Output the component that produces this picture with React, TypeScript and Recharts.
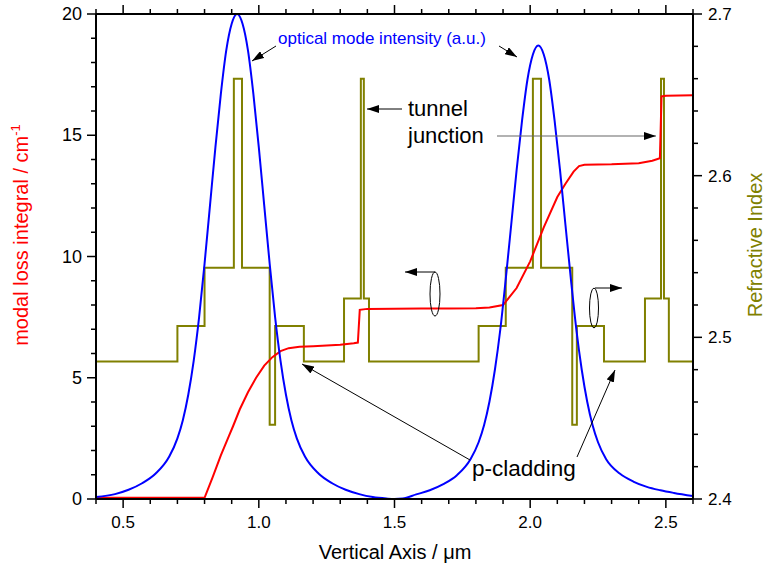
import React from "react";
import { LineChart, Line, XAxis, YAxis } from "recharts";

const FONT = "'Liberation Sans', Arial, Helvetica, sans-serif";
const BLUE = "#0000ff";
const RED = "#ff0000";
const OLIVE = "#808000";

// axis ticks
const X_TICKS = [0.4, 0.5, 0.6, 0.7, 0.8, 0.9, 1.0, 1.1, 1.2, 1.3, 1.4, 1.5, 1.6, 1.7, 1.8, 1.9, 2.0, 2.1, 2.2, 2.3, 2.4, 2.5, 2.6];
const LOSS_TICKS = [0, 1, 2, 3, 4, 5, 6, 7, 8, 9, 10, 11, 12, 13, 14, 15, 16, 17, 18, 19, 20];
const INDEX_TICKS = [2.4, 2.42, 2.44, 2.46, 2.48, 2.5, 2.52, 2.54, 2.56, 2.58, 2.6, 2.62, 2.64, 2.66, 2.68, 2.7];

// optical mode intensity (a.u., drawn on the left scale)
const MODE_X = [0.4, 0.47, 0.52, 0.57, 0.62, 0.67, 0.7, 0.72, 0.74, 0.76, 0.78, 0.8, 0.82, 0.84, 0.86, 0.88, 0.9, 0.92, 0.94, 0.96, 0.98, 1.0, 1.02, 1.04, 1.06, 1.08, 1.1, 1.12, 1.14, 1.17, 1.22, 1.27, 1.32, 1.37, 1.42, 1.47, 1.5, 1.53, 1.58, 1.63, 1.68, 1.73, 1.78, 1.81, 1.83, 1.85, 1.87, 1.89, 1.91, 1.93, 1.95, 1.97, 1.99, 2.01, 2.03, 2.05, 2.07, 2.09, 2.11, 2.13, 2.15, 2.17, 2.19, 2.21, 2.23, 2.25, 2.28, 2.33, 2.38, 2.43, 2.48, 2.53, 2.6];
const MODE_I = [0.08, 0.2, 0.38, 0.65, 1.05, 1.75, 2.5, 3.25, 4.3, 5.7, 7.5, 9.7, 12.1, 14.5, 16.7, 18.5, 19.6, 20.0, 19.6, 18.5, 16.7, 14.5, 12.1, 9.7, 7.5, 5.7, 4.3, 3.25, 2.5, 1.75, 1.05, 0.65, 0.38, 0.2, 0.08, 0.02, 0.0, 0.02, 0.19, 0.36, 0.61, 0.98, 1.64, 2.34, 3.04, 4.02, 5.33, 7.0, 9.07, 11.3, 13.56, 15.6, 17.3, 18.33, 18.7, 18.33, 17.3, 15.6, 13.56, 11.3, 9.07, 7.0, 5.33, 4.02, 3.04, 2.34, 1.64, 1.05, 0.72, 0.5, 0.36, 0.25, 0.12];

// modal loss integral / cm^-1
const LOSS_X = [0.4, 0.8, 0.83, 0.86, 0.89, 0.905, 0.93, 0.96, 0.99, 1.02, 1.05, 1.08, 1.11, 1.15, 1.2, 1.25, 1.3, 1.35, 1.365, 1.372, 1.4, 1.5, 1.6, 1.7, 1.8, 1.85, 1.9, 1.95, 2.0, 2.05, 2.1, 2.13, 2.16, 2.18, 2.2, 2.3, 2.4, 2.45, 2.478, 2.484, 2.5, 2.6];
const LOSS_V = [0.05, 0.05, 0.9, 1.8, 2.6, 3.0, 3.7, 4.4, 5.0, 5.5, 5.85, 6.1, 6.22, 6.28, 6.3, 6.33, 6.36, 6.42, 6.45, 7.8, 7.84, 7.85, 7.86, 7.86, 7.87, 7.9, 8.0, 8.7, 9.8, 11.2, 12.45, 13.0, 13.5, 13.73, 13.78, 13.8, 13.85, 13.95, 14.05, 16.6, 16.63, 16.65];

// refractive index profile (step starts)
const INDEX_X = [0.4, 0.7, 0.8, 0.908, 0.938, 1.04, 1.06, 1.166, 1.314, 1.376, 1.387, 1.406, 1.81, 1.91, 2.01, 2.04, 2.155, 2.172, 2.272, 2.423, 2.482, 2.493, 2.511, 2.6];
const INDEX_N = [2.485, 2.507, 2.543, 2.66, 2.543, 2.446, 2.507, 2.485, 2.524, 2.66, 2.524, 2.485, 2.507, 2.543, 2.66, 2.543, 2.446, 2.507, 2.485, 2.524, 2.66, 2.524, 2.485, 2.485];

const modeData = MODE_X.map((x, i) => ({ x, v: MODE_I[i] }));
const lossData = LOSS_X.map((x, i) => ({ x, v: LOSS_V[i] }));
const indexData = INDEX_X.map((x, i) => ({ x, n: INDEX_N[i] }));

const isMult = (v: number, step: number) => Math.abs(v / step - Math.round(v / step)) < 1e-6;

function BottomTick({ x, y, payload }: any) {
  const major = isMult(payload.value, 0.5);
  return (
    <g>
      <line x1={x} x2={x} y1={y} y2={y + (major ? 9 : 5)} stroke="#000" strokeWidth={1.5} />
      {major && (
        <text x={x} y={y + 29} textAnchor="middle" fontSize={17} fontFamily={FONT} fill="#000">
          {payload.value.toFixed(1)}
        </text>
      )}
    </g>
  );
}

function TopTick({ x, y, payload }: any) {
  const major = isMult(payload.value, 0.5);
  return <line x1={x} x2={x} y1={y} y2={y - (major ? 9 : 5)} stroke="#000" strokeWidth={1.5} />;
}

function LeftTick({ x, y, payload }: any) {
  const major = isMult(payload.value, 5);
  return (
    <g>
      <line x1={x} x2={x - (major ? 9 : 5)} y1={y} y2={y} stroke="#000" strokeWidth={1.5} />
      {major && (
        <text x={x - 14} y={y + 6} textAnchor="end" fontSize={18} fontFamily={FONT} fill="#000">
          {payload.value}
        </text>
      )}
    </g>
  );
}

function RightTick({ x, y, payload }: any) {
  const major = isMult(payload.value, 0.1);
  return (
    <g>
      <line x1={x} x2={x + (major ? 9 : 5)} y1={y} y2={y} stroke="#000" strokeWidth={1.5} />
      {major && (
        <text x={x + 15} y={y + 6} textAnchor="start" fontSize={17} fontFamily={FONT} fill="#000">
          {payload.value.toFixed(1)}
        </text>
      )}
    </g>
  );
}

function Annotations() {
  const txt = { fontFamily: FONT };
  return (
    <svg width={766} height={571} style={{ position: "absolute", left: 0, top: 0, pointerEvents: "none" }}>
      <defs>
        <marker id="ah" markerWidth={12} markerHeight={8} refX={12} refY={4} orient="auto" markerUnits="userSpaceOnUse">
          <path d="M0,0 L12,4 L0,8 z" fill="#000" />
        </marker>
      </defs>

      <text x={278} y={44} fontSize={17} fill={BLUE} {...txt}>optical mode intensity (a.u.)</text>
      <line x1={276} y1={46} x2={252} y2={61} stroke="#000" strokeWidth={1} markerEnd="url(#ah)" />
      <line x1={499} y1={46} x2={517} y2={57} stroke="#000" strokeWidth={1} markerEnd="url(#ah)" />

      <text x={408} y={116} fontSize={22} fill="#000" {...txt}>tunnel</text>
      <text x={408} y={143} fontSize={22} fill="#000" {...txt}>junction</text>
      <line x1={402} y1={109} x2={367} y2={109} stroke="#000" strokeWidth={1} markerEnd="url(#ah)" />
      <line x1={497} y1={136} x2={656} y2={136} stroke="#666" strokeWidth={1.2} markerEnd="url(#ah)" />

      <ellipse cx={435} cy={294} rx={5} ry={22} fill="none" stroke="#000" strokeWidth={1} />
      <line x1={435} y1={272} x2={405} y2={272} stroke="#000" strokeWidth={1} markerEnd="url(#ah)" />
      <ellipse cx={594} cy={308} rx={4.5} ry={20} fill="none" stroke="#000" strokeWidth={1} />
      <line x1={595} y1={288} x2={622} y2={288} stroke="#000" strokeWidth={1} markerEnd="url(#ah)" />

      <text x={472} y={476} fontSize={22.5} fill="#000" {...txt}>p-cladding</text>
      <line x1={470} y1={460} x2={302} y2={364} stroke="#000" strokeWidth={1} markerEnd="url(#ah)" />
      <line x1={577} y1={457} x2={615} y2={370} stroke="#000" strokeWidth={1} markerEnd="url(#ah)" />

      <text x={395} y={559} fontSize={20} textAnchor="middle" fill="#000" {...txt}>Vertical Axis / μm</text>
      <text transform="translate(28,235) rotate(-90)" fontSize={20} textAnchor="middle" fill={RED} {...txt}>
        modal loss integral / cm<tspan dy={-8} fontSize={13}>-1</tspan>
      </text>
      <text transform="translate(762,245) rotate(-90)" fontSize={20} textAnchor="middle" fill={OLIVE} {...txt}>
        Refractive Index
      </text>
    </svg>
  );
}

export default function App() {
  const axisLine = { stroke: "#000", strokeWidth: 2 };
  return (
    <div style={{ position: "absolute", left: 0, top: 0, width: 766, height: 571, background: "#fff" }}>
      <LineChart width={766} height={571} margin={{ top: 4, right: 13, bottom: 22, left: 36 }}>
        <XAxis xAxisId="b" type="number" dataKey="x" domain={[0.4, 2.6]} ticks={X_TICKS} interval={0}
          tick={<BottomTick />} tickLine={false} tickSize={0} tickMargin={0} axisLine={axisLine} height={50} allowDataOverflow />
        <XAxis xAxisId="t" orientation="top" type="number" dataKey="x" domain={[0.4, 2.6]} ticks={X_TICKS} interval={0}
          tick={<TopTick />} tickLine={false} tickSize={0} tickMargin={0} axisLine={axisLine} height={10} allowDataOverflow />
        <YAxis yAxisId="l" type="number" domain={[0, 20]} ticks={LOSS_TICKS} interval={0}
          tick={<LeftTick />} tickLine={false} tickSize={0} tickMargin={0} axisLine={axisLine} width={60} allowDataOverflow />
        <YAxis yAxisId="r" orientation="right" type="number" domain={[2.4, 2.7]} ticks={INDEX_TICKS} interval={0}
          tick={<RightTick />} tickLine={false} tickSize={0} tickMargin={0} axisLine={axisLine} width={60} allowDataOverflow />
        <Line xAxisId="b" yAxisId="r" data={indexData} dataKey="n" type="stepAfter" stroke={OLIVE}
          strokeWidth={2} dot={false} isAnimationActive={false} />
        <Line xAxisId="b" yAxisId="l" data={lossData} dataKey="v" type="linear" stroke={RED}
          strokeWidth={2} dot={false} isAnimationActive={false} />
        <Line xAxisId="b" yAxisId="l" data={modeData} dataKey="v" type="monotone" stroke={BLUE}
          strokeWidth={2} dot={false} isAnimationActive={false} />
      </LineChart>
      <Annotations />
    </div>
  );
}
